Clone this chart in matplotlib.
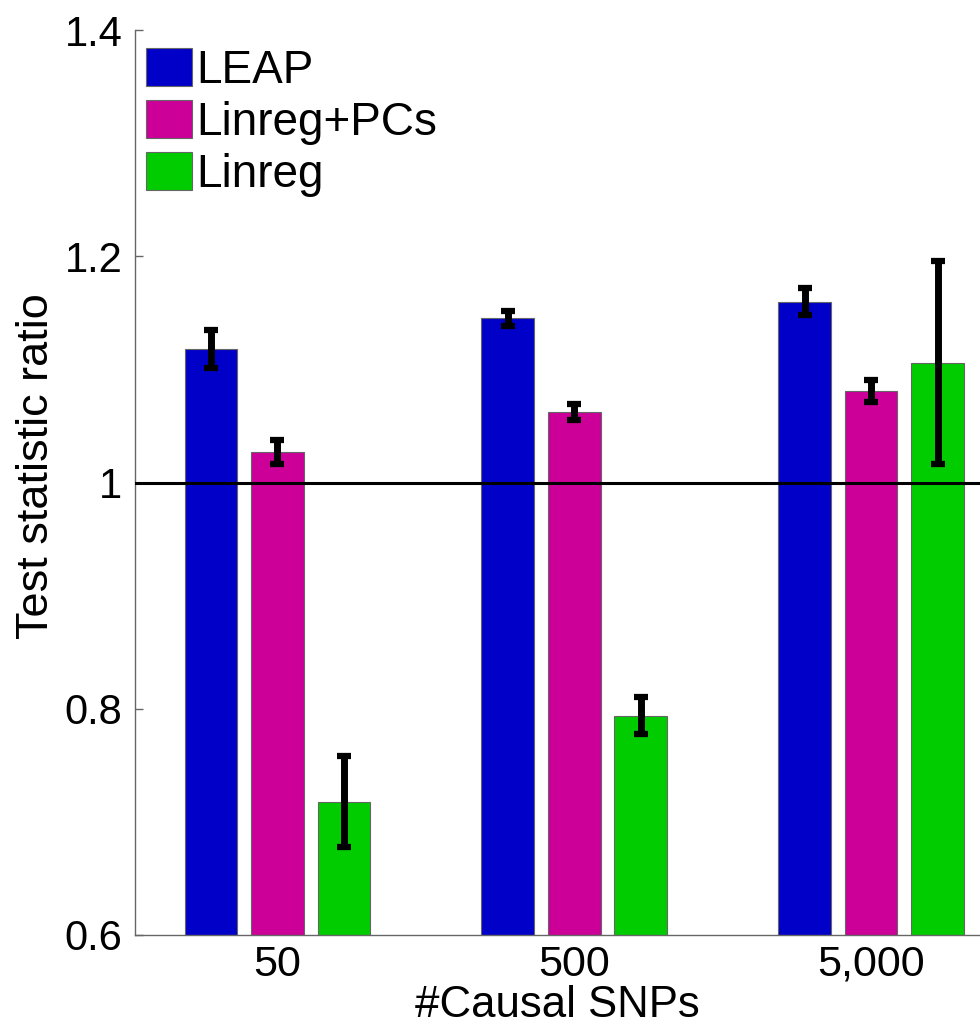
import numpy as np
import matplotlib
matplotlib.use("Agg")
import matplotlib.pyplot as plt

plt.rcParams['font.family'] = ['Liberation Sans', 'DejaVu Sans']

# 每组的因果 SNP 数目
groups = ["50", "500", "5,000"]
methods = ["LEAP", "Linreg+PCs", "Linreg"]

# 各方法的检验统计量比值（均值）与误差
leap = [1.118, 1.145, 1.160]
leap_err = [0.017, 0.007, 0.012]
linreg_pcs = [1.027, 1.062, 1.081]
linreg_pcs_err = [0.011, 0.007, 0.010]
linreg = [0.718, 0.794, 1.106]
linreg_err = [0.040, 0.016, 0.090]

colors = ["#0000C8", "#CC0099", "#00CC00"]

fig = plt.figure(figsize=(9.8, 10.3), dpi=100)
ax = fig.add_axes([135 / 980, 1 - 935 / 1030, 845 / 980, 905 / 1030])

x = np.arange(1, len(groups) + 1)
width = 0.178
offset = 0.224
series = [(leap, leap_err), (linreg_pcs, linreg_pcs_err), (linreg, linreg_err)]
for i, (vals, errs) in enumerate(series):
    pos = x + (i - 1) * offset
    ax.bar(pos, vals, width, color=colors[i], edgecolor="#666666",
           linewidth=0.8, label=methods[i], zorder=2)
    ax.errorbar(pos, vals, yerr=errs, fmt="none", ecolor="black",
                elinewidth=5, capsize=5, capthick=4.5, zorder=4)

ax.axhline(1.0, color="black", linewidth=2.2, zorder=3)

ax.set_xlim(0.52, 3.367)
ax.set_ylim(0.6, 1.4)
ax.set_xticks(x)
ax.set_xticklabels(groups, fontsize=31)
ax.set_yticks([0.6, 0.8, 1.0, 1.2, 1.4])
ax.set_yticklabels(["0.6", "0.8", "1", "1.2", "1.4"], fontsize=30)
ax.tick_params(axis="x", length=0, pad=7)
ax.tick_params(axis="y", direction="in", length=6, width=1, color="#666666", pad=9)

for side in ("top", "right"):
    ax.spines[side].set_visible(False)
for side in ("left", "bottom"):
    ax.spines[side].set_color("#666666")
    ax.spines[side].set_linewidth(1)

ax.set_ylabel("Test statistic ratio", fontsize=32.5)
ax.yaxis.set_label_coords(-0.0925, 0.518)
ax.set_xlabel("#Causal SNPs", fontsize=31.5, labelpad=0)

ax.legend(loc="upper left", bbox_to_anchor=(-0.006, 1 - 2 / 905), frameon=False,
          fontsize=33, handlelength=1.0, handleheight=0.9,
          handletextpad=0.1, labelspacing=0.16, borderpad=0.35,
          borderaxespad=0.0)

fig.savefig("out.png", dpi=100)
